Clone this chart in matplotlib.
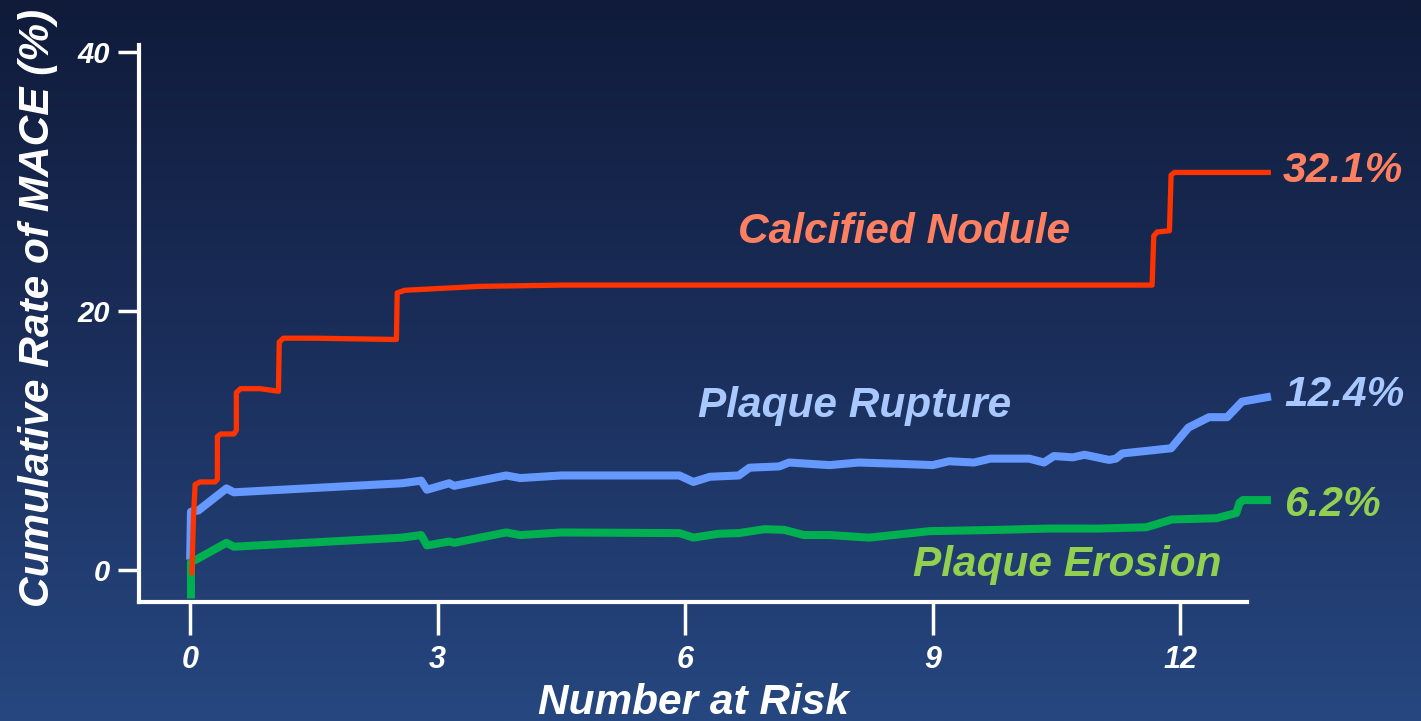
import numpy as np
import matplotlib
matplotlib.use("Agg")
import matplotlib.pyplot as plt
from matplotlib.colors import LinearSegmentedColormap

# ---- data ----
x_ticks = [0, 3, 6, 9, 12]
y_ticks = [0, 20, 40]

cn_x = [0.02, 0.04, 0.06, 0.12, 0.30, 0.33, 0.33, 0.37, 0.53, 0.56, 0.56, 0.61, 0.85, 1.07, 1.08, 1.13,
        1.5, 2.50, 2.51, 2.6, 3.5, 4.5, 8.0, 11.66, 11.68, 11.72, 11.87, 11.89, 11.93, 13.1]
cn_y = [-0.4, 4.0, 6.6, 6.8, 6.8, 7.0, 10.3, 10.5, 10.5, 10.8, 13.7, 14.0, 14.0, 13.8, 17.6, 17.9,
        17.9, 17.8, 21.4, 21.6, 21.9, 22.0, 22.0, 22.0, 25.8, 26.1, 26.2, 30.5, 30.7, 30.7]

pr_x = [0.0, 0.01, 0.1, 0.44, 0.53, 2.57, 2.8, 2.87, 3.14, 3.2, 3.83, 4.0, 4.5, 5.93, 6.1, 6.3,
        6.65, 6.78, 7.14, 7.26, 7.75, 8.1, 8.6, 9.0, 9.2, 9.5, 9.7, 10.17, 10.35, 10.47, 10.7,
        10.84, 11.14, 11.22, 11.3, 11.89, 12.1, 12.35, 12.57, 12.75, 13.1]
pr_y = [0.8, 4.5, 4.6, 6.3, 6.0, 6.7, 6.9, 6.2, 6.7, 6.5, 7.3, 7.1, 7.3, 7.3, 6.8, 7.2,
        7.3, 7.9, 8.0, 8.3, 8.1, 8.3, 8.2, 8.1, 8.4, 8.3, 8.6, 8.6, 8.3, 8.8, 8.7,
        8.9, 8.5, 8.6, 9.0, 9.4, 11.0, 11.8, 11.8, 13.0, 13.4]

pe_x = [0.01, 0.01, 0.1, 0.44, 0.53, 2.57, 2.8, 2.87, 3.14, 3.2, 3.83, 4.0, 4.5, 5.93, 6.1, 6.4,
        6.65, 6.96, 7.2, 7.44, 7.75, 8.23, 8.96, 9.8, 10.4, 11.0, 11.59, 11.9, 12.44, 12.68,
        12.72, 12.76, 13.1]
pe_y = [-2.2, 0.6, 0.9, 2.1, 1.8, 2.5, 2.7, 1.9, 2.2, 2.1, 2.9, 2.7, 2.9, 2.85, 2.5, 2.8,
        2.85, 3.15, 3.1, 2.7, 2.7, 2.5, 3.0, 3.1, 3.2, 3.2, 3.3, 3.9, 4.0, 4.4,
        5.2, 5.4, 5.4]

names = ["Calcified Nodule", "Plaque Rupture", "Plaque Erosion"]
final_labels = ["32.1%", "12.4%", "6.2%"]

# ---- figure ----
fig = plt.figure(figsize=(14.21, 7.21), dpi=100)

bg = fig.add_axes([0, 0, 1, 1], zorder=-10)
cmap = LinearSegmentedColormap.from_list("bg", ["#101b3a", "#1b2f5c", "#264780"])
grad = np.linspace(0, 1, 256).reshape(-1, 1)
bg.imshow(grad, aspect="auto", cmap=cmap, extent=[0, 1, 0, 1], origin="upper")
bg.axis("off")

ax = fig.add_axes([139 / 1421, 1 - 602 / 721, (1247 - 139) / 1421, (602 - 45) / 721])
ax.patch.set_alpha(0)
ax.set_xlim(-0.62, 12.81)
ax.set_ylim(-2.47, 40.54)

ax.plot(cn_x, cn_y, color="#ff3300", lw=3.8, clip_on=False, solid_joinstyle="round",
        solid_capstyle="butt", zorder=3)
ax.plot(pr_x, pr_y, color="#6699ff", lw=5.8, clip_on=False, solid_joinstyle="round",
        solid_capstyle="butt", zorder=2)
ax.plot(pe_x, pe_y, color="#00b050", lw=5.8, clip_on=False, solid_joinstyle="round",
        solid_capstyle="butt", zorder=2)

for s in ["top", "right"]:
    ax.spines[s].set_visible(False)
for s in ["left", "bottom"]:
    ax.spines[s].set_color("white")
    ax.spines[s].set_linewidth(3)

ax.set_xticks(x_ticks)
ax.set_yticks(y_ticks)
ax.set_xticklabels([str(v) for v in x_ticks])
ax.set_yticklabels([str(v) for v in y_ticks])
ax.tick_params(axis="x", colors="white", length=24, width=2.5, pad=7, labelsize=22)
ax.tick_params(axis="y", colors="white", length=15, width=2.5, pad=6, labelsize=21)
for lab in ax.get_xticklabels() + ax.get_yticklabels():
    lab.set_fontstyle("italic")
    lab.set_fontweight("bold")
    lab.set_family("Liberation Sans")

font = dict(family="Liberation Sans", style="italic", weight="bold")
ax.set_xlabel("Number at Risk", color="white", fontsize=30.5, labelpad=6, **font)
fig.text(38 / 1421, 1 - 308 / 721, "Cumulative Rate of MACE (%)", rotation=90, color="white",
         fontsize=30.5, ha="center", va="center", **font)

ax.text(8.65, 26.1, names[0], color="#ff8060", fontsize=30.5, ha="center", va="center", **font)
ax.text(8.05, 12.7, names[1], color="#a8c8ff", fontsize=30.5, ha="center", va="center", **font)
ax.text(10.63, 0.4, names[2], color="#92d050", fontsize=30.5, ha="center", va="center", **font)

ax.text(13.24, 30.8, final_labels[0], color="#ff8060", fontsize=30.5, ha="left", va="center", **font)
ax.text(13.26, 13.5, final_labels[1], color="#a8c8ff", fontsize=30.5, ha="left", va="center", **font)
ax.text(13.26, 5.0, final_labels[2], color="#92d050", fontsize=30.5, ha="left", va="center", **font)

fig.savefig("out.png", dpi=100)
